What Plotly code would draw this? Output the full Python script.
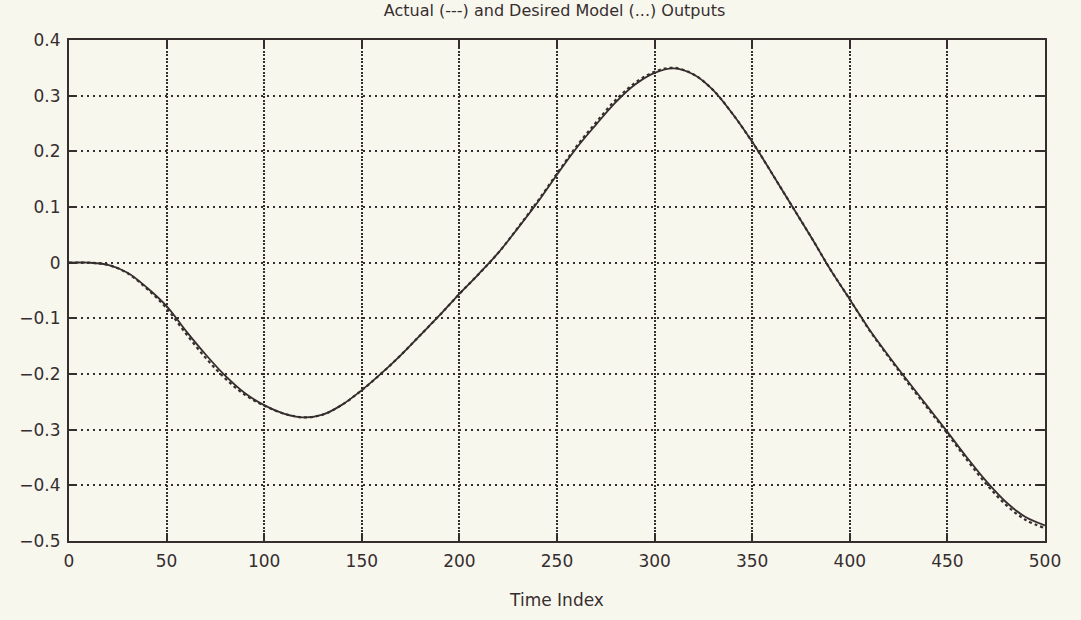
import plotly.graph_objects as go

time_index = list(range(0, 501, 10))

actual = [0.000, 0.000, -0.004, -0.018, -0.045, -0.078, -0.123, -0.165, -0.203, -0.234,
          -0.256, -0.271, -0.278, -0.273, -0.255, -0.229, -0.199, -0.166, -0.130, -0.094,
          -0.056, -0.020, 0.018, 0.062, 0.108, 0.158, 0.206, 0.248, 0.288, 0.320,
          0.341, 0.349, 0.338, 0.310, 0.267, 0.217, 0.161, 0.104, 0.047, -0.012,
          -0.066, -0.120, -0.168, -0.214, -0.259, -0.304, -0.350, -0.393, -0.430, -0.457,
          -0.472]

desired = [0.000, 0.000, -0.004, -0.019, -0.047, -0.082, -0.128, -0.171, -0.208, -0.237,
           -0.257, -0.271, -0.278, -0.273, -0.255, -0.229, -0.199, -0.166, -0.130, -0.094,
           -0.056, -0.020, 0.018, 0.063, 0.110, 0.160, 0.209, 0.252, 0.292, 0.323,
           0.343, 0.350, 0.338, 0.310, 0.267, 0.217, 0.161, 0.104, 0.047, -0.012,
           -0.066, -0.121, -0.170, -0.217, -0.262, -0.307, -0.354, -0.398, -0.435, -0.462,
           -0.477]

x_ticks = [0, 50, 100, 150, 200, 250, 300, 350, 400, 450, 500]
y_ticks = [-0.5, -0.4, -0.3, -0.2, -0.1, 0, 0.1, 0.2, 0.3, 0.4]

ink = "#362e2e"
bg = "#f8f7ee"
font_family = "DejaVu Sans"

fig = go.Figure()
fig.add_trace(go.Scatter(x=time_index, y=desired, mode="lines", name="Desired",
                         line=dict(color=ink, width=2.2, dash="dot", shape="spline")))
fig.add_trace(go.Scatter(x=time_index, y=actual, mode="lines", name="Actual",
                         line=dict(color=ink, width=1.8, shape="spline")))

fig.update_layout(
    width=1081, height=620,
    paper_bgcolor=bg, plot_bgcolor=bg,
    margin=dict(l=69, r=36, t=40, b=79),
    showlegend=False,
    title=dict(text="Actual (---) and Desired Model (...) Outputs",
               x=0.513, xanchor="center", y=0.992, yanchor="top",
               font=dict(family=font_family, size=16, color=ink)),
    font=dict(family=font_family, size=17, color=ink),
)
fig.update_xaxes(range=[0, 500], tickvals=x_ticks, ticks="inside", ticklen=8, tickwidth=2,
                 tickcolor=ink, showline=True, linecolor=ink, linewidth=2, mirror="ticks",
                 showgrid=True, gridcolor=ink, gridwidth=1.6, griddash="2px,1.5px",
                 zeroline=False, tickfont=dict(size=17, color=ink), ticklabelstandoff=4,
                 title=dict(text="Time Index", font=dict(size=17, color=ink), standoff=24))
fig.update_yaxes(range=[-0.5, 0.4], tickvals=y_ticks, ticks="inside", ticklen=8, tickwidth=2,
                 tickcolor=ink, showline=True, linecolor=ink, linewidth=2, mirror="ticks",
                 showgrid=True, gridcolor=ink, gridwidth=1.6, griddash="2px,4px",
                 zeroline=False, tickfont=dict(size=17, color=ink), ticklabelstandoff=3)

fig.write_html("out.html", config={"displayModeBar": False},
               post_script="document.body.style.margin='0';document.body.style.background='%s';" % bg)
